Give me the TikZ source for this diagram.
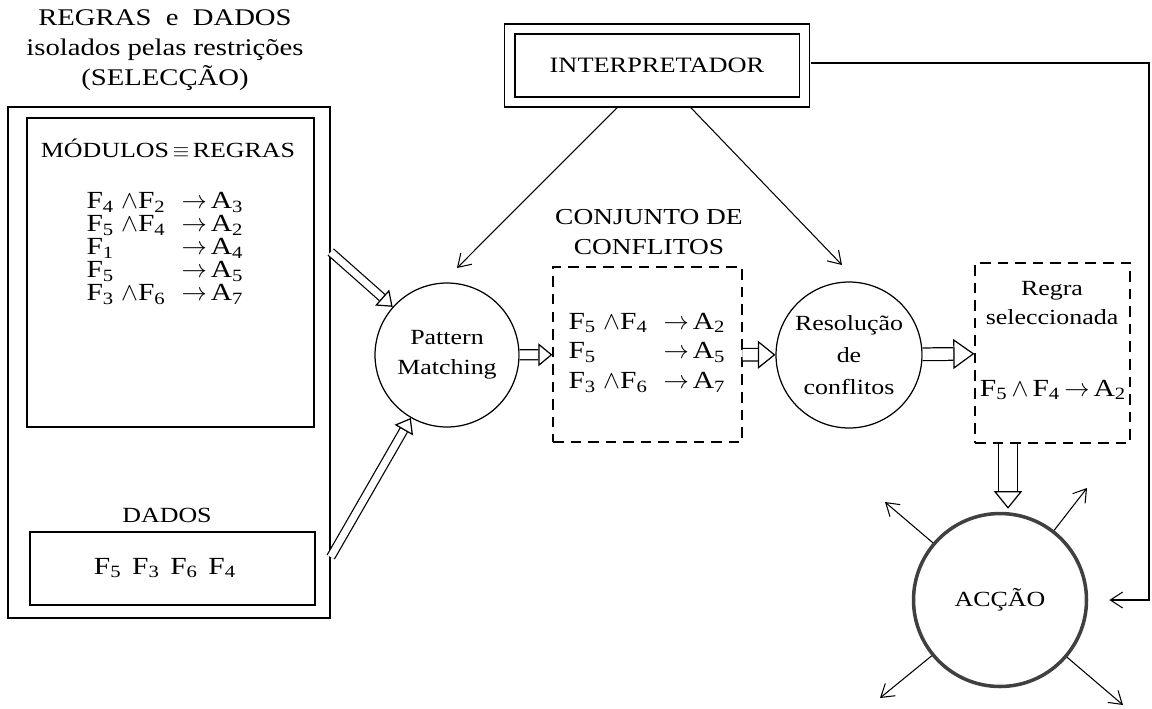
\documentclass[tikz,border=0pt]{standalone}
\usepackage{fontspec}
\setmainfont[FakeStretch=1.2]{Liberation Serif}
\usetikzlibrary{arrows.meta}
\usetikzlibrary{positioning}

\newcommand{\fsub}[1]{F\textsubscript{#1}}
\newcommand{\asub}[1]{A\textsubscript{#1}}

\tikzset{
	box/.style={draw, line width=0.9pt, inner sep=0pt},
	dashbox/.style={draw, line width=0.7pt, dash pattern=on 6pt off 4pt, inner sep=0pt},
	proc/.style={draw, circle, line width=0.7pt, align=center, inner sep=0pt},
	rulefont/.style={font=\fontsize{14}{#1}\selectfont},
	thinarrow/.style={line width=0.6pt, -{Straight Barb[length=7pt, width=9pt]}},
	fatshaft/.style 2 args={line width=0.7pt, double, double distance=#1, shorten >=#2},
	fathead/.style 2 args={white, shorten <=1pt,
		-{Triangle[color=black, fill=none, line width=0.7pt, width=#1, length=#2]}}
}

% hollow arrow: gap, head width, head length, from, to
\newcommand{\fatarrow}[5]{%
	\draw[fatshaft={#1}{#3}] (#4) -- (#5);
	\draw[fathead={#2}{#3}] (#4) -- (#5);}

\begin{document}
\begin{tikzpicture}[x=0.02cm, y=-0.02cm,
	every node/.style={font=\fontsize{12.3}{14}\selectfont}]
	\useasboundingbox (0,0) rectangle (1152,708);

	% rules and data
	\node[align=center, font=\fontsize{13.6}{17}\selectfont] (seltitle) at (165,50)
		{REGRAS\ \ e\ \ DADOS\\isolados pelas restrições\\(SELECÇÃO)};
	\node[box, minimum width=6.44cm, minimum height=10.22cm] (selbox) at (169,362.5) {};
	\node[box, line width=0.7pt, minimum width=5.74cm, minimum height=6.18cm] (rulebox) at (170.5,272.5) {};
	\node (modtitle) at (168,148) {MÓDULOS\,$\equiv$\,REGRAS};
	\node[rulefont=12.8] (rules) at (165,250) {%
		\begin{tabular}{@{}l@{\hspace{4pt}}l@{\hspace{9pt}}l@{}}
			\fsub4 & $\wedge$\fsub2 & $\rightarrow$\,\asub3\\
			\fsub5 & $\wedge$\fsub4 & $\rightarrow$\,\asub2\\
			\fsub1 &                & $\rightarrow$\,\asub4\\
			\fsub5 &                & $\rightarrow$\,\asub5\\
			\fsub3 & $\wedge$\fsub6 & $\rightarrow$\,\asub7
		\end{tabular}};
	\node (datatitle) at (167,515) {DADOS};
	\node[box, line width=0.7pt, minimum width=5.7cm, minimum height=1.46cm] (databox) at (172.5,568.5) {};
	\node[rulefont=14] (data) at (165,568) {\fsub5\hspace{6pt}\fsub3\hspace{6pt}\fsub6\hspace{6pt}\fsub4};

	% interpreter
	\node[box, double, double distance=5pt, minimum width=5.9cm, minimum height=1.46cm,
		font=\fontsize{12.5}{15}\selectfont] (interp) at (657,65.5) {INTERPRETADOR};

	% matching and conflict set
	\node[proc, minimum size=2.88cm, font=\fontsize{12.3}{17}\selectfont] (pm) at (447,355) {Pattern\\Matching};
	\node[align=center, font=\fontsize{13}{17.6}\selectfont] (conftitle) at (649,232) {CONJUNTO DE\\CONFLITOS};
	\node[dashbox, minimum width=3.78cm, minimum height=3.5cm] (conf) at (647.5,354.5) {};
	\node[rulefont=17] (confrules) at (647,353) {%
		\begin{tabular}{@{}l@{\hspace{4pt}}l@{\hspace{9pt}}l@{}}
			\fsub5 & $\wedge$\fsub4 & $\rightarrow$\,\asub2\\
			\fsub5 &                & $\rightarrow$\,\asub5\\
			\fsub3 & $\wedge$\fsub6 & $\rightarrow$\,\asub7
		\end{tabular}};

	% resolution and chosen rule
	\node[proc, minimum size=2.92cm, font=\fontsize{12.3}{18}\selectfont] (res) at (849,355) {Resolução\\de\\conflitos};
	\node[dashbox, minimum width=3.1cm, minimum height=3.6cm] (regra) at (1052.5,353) {};
	\node[align=center, font=\fontsize{12.3}{17}\selectfont] (regratitle) at (1052,303) {Regra\\seleccionada};
	\node[rulefont=14] (chosen) at (1053,390) {\fsub5\,$\wedge$\,\fsub4\,$\rightarrow$\,\asub2};

	% action
	\node[draw=black!75, circle, line width=2pt, minimum size=3.46cm] (acc) at (1000,600) {ACÇÃO};

	\coordinate (pmtip) at (457,268);
	\coordinate (restip) at (842,265);
	\coordinate (accturn) at (1149,600);
	\coordinate (out1) at (885,502);
	\coordinate (out2) at (1087,488);
	\coordinate (out3) at (880,698);
	\coordinate (out4) at (1123,705);

	% connectors
	\draw[thinarrow] ([shift={(-39,4)}]interp.south) -- (pmtip);
	\draw[thinarrow] ([shift={(33,4)}]interp.south) -- (restip);
	\draw[thinarrow, shorten >=12pt] ([shift={(5.5,-2.5)}]interp.east) -| (accturn) -- (acc.east);
	\foreach \o in {out1,out2,out3,out4}
		\draw[thinarrow] (acc) -- (\o);

	\fatarrow{4pt}{12pt}{8pt}{[shift={(0,-110.5)}]selbox.east}{pm}
	\fatarrow{4pt}{12pt}{8pt}{[shift={(0,194.5)}]selbox.east}{pm}
	\fatarrow{5pt}{13pt}{8pt}{pm}{conf}
	\fatarrow{6.5pt}{16pt}{10pt}{conf}{res}
	\fatarrow{6.5pt}{17pt}{12pt}{res}{regra}
	\fatarrow{10pt}{16pt}{10pt}{[shift={(-44.5,0)}]regra.south}{[shift={(8,-3)}]acc.north}
\end{tikzpicture}
\end{document}
